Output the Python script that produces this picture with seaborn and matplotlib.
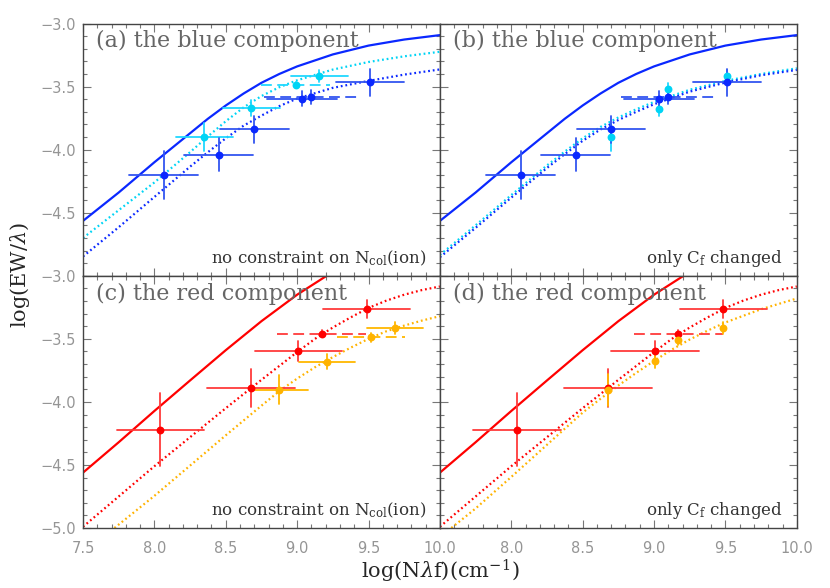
import matplotlib
matplotlib.use("Agg")
import matplotlib.pyplot as plt
import seaborn as sns
from matplotlib.ticker import MultipleLocator

# model curves
blue_grid = [7.5, 7.75, 8.0, 8.25, 8.375, 8.5, 8.625, 8.75, 8.875, 9.0, 9.25, 9.5, 9.75, 10.0]
blue_solid_y = [-4.565, -4.34, -4.10, -3.87, -3.755, -3.65, -3.555, -3.47, -3.40, -3.34, -3.245, -3.175, -3.127, -3.092]
blue_dot_a_y = [-4.847, -4.615, -4.375, -4.135, -4.02, -3.91, -3.81, -3.73, -3.655, -3.595, -3.51, -3.455, -3.405, -3.364]
cyan_dot_a_y = [-4.70, -4.48, -4.26, -4.02, -3.895, -3.775, -3.665, -3.575, -3.505, -3.45, -3.365, -3.305, -3.26, -3.224]
blue_dot_b_y = [-4.853, -4.62, -4.38, -4.145, -4.035, -3.93, -3.84, -3.765, -3.70, -3.64, -3.54, -3.468, -3.41, -3.368]
cyan_dot_b_y = [-4.835, -4.60, -4.36, -4.125, -4.015, -3.91, -3.82, -3.745, -3.68, -3.622, -3.525, -3.455, -3.40, -3.355]

red_solid_x = [7.5, 7.75, 8.0, 8.25, 8.5, 8.75, 9.0, 9.207]
red_solid_y = [-4.561, -4.32, -4.072, -3.83, -3.59, -3.36, -3.15, -3.0]
red_dot_x = [7.5, 7.75, 8.0, 8.25, 8.5, 8.75, 9.0, 9.125, 9.25, 9.375, 9.5, 9.625, 9.75, 9.875, 10.0]
red_dot_y = [-4.99, -4.75, -4.51, -4.28, -4.05, -3.825, -3.605, -3.50, -3.41, -3.33, -3.255, -3.197, -3.15, -3.113, -3.085]
orange_dot_c_x = [7.72, 8.0, 8.25, 8.5, 8.75, 8.875, 9.0, 9.125, 9.25, 9.375, 9.5, 9.625, 9.75, 9.875, 10.0]
orange_dot_c_y = [-5.0, -4.745, -4.505, -4.265, -4.03, -3.915, -3.815, -3.725, -3.645, -3.57, -3.50, -3.44, -3.395, -3.355, -3.32]
orange_dot_d_x = [7.58, 7.75, 8.0, 8.25, 8.5, 8.625, 8.75, 8.875, 9.0, 9.125, 9.25, 9.375, 9.5, 9.75, 10.0]
orange_dot_d_y = [-5.0, -4.845, -4.595, -4.34, -4.085, -3.975, -3.87, -3.77, -3.675, -3.585, -3.505, -3.435, -3.37, -3.265, -3.18]

# measurements
blue_x = [8.065, 8.45, 8.70, 9.035, 9.10, 9.51]
blue_y = [-4.20, -4.04, -3.84, -3.595, -3.58, -3.466]
blue_xerr = [0.24, 0.24, 0.24, 0.245, 0.33, 0.24]
blue_yerr = [0.19, 0.13, 0.11, 0.06, 0.055, 0.105]
blue_dashed = [4]

cyan_a_x = [8.35, 8.68, 8.99, 9.156]
cyan_a_y = [-3.90, -3.67, -3.487, -3.416]
cyan_a_xerr = [0.20, 0.20, 0.24, 0.20]
cyan_a_yerr = [0.11, 0.06, 0.02, 0.045]
cyan_a_dashed = [2]

cyan_b_x = [8.70, 9.035, 9.10, 9.51]
cyan_b_y = [-3.903, -3.674, -3.521, -3.416]
cyan_b_yerr = [0.11, 0.06, 0.05, 0.045]

red_x = [8.04, 8.68, 9.009, 9.171, 9.486]
red_y = [-4.222, -3.892, -3.595, -3.458, -3.262]
red_xerr = [0.305, 0.308, 0.307, 0.31, 0.306]
red_yerr = [0.29, 0.15, 0.08, 0.03, 0.07]
red_dashed = [3]

orange_c_x = [8.876, 9.207, 9.518, 9.686]
orange_c_y = [-3.905, -3.68, -3.489, -3.415]
orange_c_xerr = [0.198, 0.196, 0.24, 0.198]
orange_c_yerr = [0.115, 0.06, 0.035, 0.045]
orange_c_dashed = [2]

orange_d_x = [8.68, 9.009, 9.171, 9.486]
orange_d_y = [-3.905, -3.675, -3.508, -3.415]
orange_d_yerr = [0.13, 0.06, 0.04, 0.045]

titles = ["(a) the blue component", "(b) the blue component",
          "(c) the red component", "(d) the red component"]
notes = [r"no constraint on N$_{\rm col}$(ion)", r"only C$_{\rm f}$ changed"]

BLUE, BLUE_BAR = "#0a28ff", "#3355f0"
CYAN, CYAN_BAR = "#00d4f5", "#20d8ff"
RED, RED_BAR = "#ff0000", "#ff3a3a"
ORANGE, ORANGE_BAR = "#ffb300", "#ffb800"

sns.set_style("ticks")
plt.rcParams["font.family"] = ["DejaVu Serif"]
plt.rcParams["mathtext.fontset"] = "dejavuserif"

fig, axes = plt.subplots(2, 2, figsize=(8.3, 5.88), dpi=100,
                         gridspec_kw=dict(left=0.1, right=0.96, top=0.96,
                                          bottom=0.102, hspace=0, wspace=0))


def curve(ax, x, y, color, dotted):
    ls = (0, (0.8, 1.3)) if dotted else "-"
    sns.lineplot(x=x, y=y, ax=ax, color=color, lw=1.6, linestyle=ls,
                 sort=False, estimator=None, zorder=2)


def points(ax, x, y, xerr, yerr, dashed, color, bar):
    for i in range(len(x)):
        if xerr is not None:
            ls = (0, (6, 3)) if i in dashed else "-"
            ax.plot([x[i] - xerr[i], x[i] + xerr[i]], [y[i], y[i]],
                    color=bar, lw=1.3, ls=ls, zorder=3)
        ax.plot([x[i], x[i]], [y[i] - yerr[i], y[i] + yerr[i]],
                color=bar, lw=1.3, zorder=3)
    sns.scatterplot(x=x, y=y, ax=ax, color=color, s=32, linewidth=0, zorder=5)


ax_a, ax_b = axes[0]
ax_c, ax_d = axes[1]

# (a)
curve(ax_a, blue_grid, blue_dot_a_y, BLUE, True)
curve(ax_a, blue_grid, cyan_dot_a_y, CYAN, True)
curve(ax_a, blue_grid, blue_solid_y, BLUE, False)
points(ax_a, cyan_a_x, cyan_a_y, cyan_a_xerr, cyan_a_yerr, cyan_a_dashed, CYAN, CYAN_BAR)
points(ax_a, blue_x, blue_y, blue_xerr, blue_yerr, blue_dashed, BLUE, BLUE_BAR)

# (b)
curve(ax_b, blue_grid, cyan_dot_b_y, CYAN, True)
curve(ax_b, blue_grid, blue_dot_b_y, BLUE, True)
curve(ax_b, blue_grid, blue_solid_y, BLUE, False)
points(ax_b, cyan_b_x, cyan_b_y, None, cyan_b_yerr, [], CYAN, CYAN_BAR)
points(ax_b, blue_x, blue_y, blue_xerr, blue_yerr, blue_dashed, BLUE, BLUE_BAR)

# (c)
curve(ax_c, red_dot_x, red_dot_y, RED, True)
curve(ax_c, orange_dot_c_x, orange_dot_c_y, ORANGE, True)
curve(ax_c, red_solid_x, red_solid_y, RED, False)
points(ax_c, orange_c_x, orange_c_y, orange_c_xerr, orange_c_yerr, orange_c_dashed, ORANGE, ORANGE_BAR)
points(ax_c, red_x, red_y, red_xerr, red_yerr, red_dashed, RED, RED_BAR)

# (d)
curve(ax_d, red_dot_x, red_dot_y, RED, True)
curve(ax_d, orange_dot_d_x, orange_dot_d_y, ORANGE, True)
curve(ax_d, red_solid_x, red_solid_y, RED, False)
points(ax_d, red_x, red_y, red_xerr, red_yerr, red_dashed, RED, RED_BAR)
points(ax_d, orange_d_x, orange_d_y, None, orange_d_yerr, [], ORANGE, ORANGE_BAR)

for k, ax in enumerate(axes.flat):
    ax.set_xlabel("")
    ax.set_ylabel("")
    ax.xaxis.set_minor_locator(MultipleLocator(0.1))
    ax.yaxis.set_minor_locator(MultipleLocator(0.1))
    ax.tick_params(which="both", direction="in", top=True, right=True,
                   color="#777777", labelcolor="#959595", labelsize=10.5)
    ax.tick_params(which="major", length=6, width=0.8)
    ax.tick_params(which="minor", length=3, width=0.8)
    ax.tick_params(axis="x", pad=9)
    ax.tick_params(axis="y", pad=5)
    for sp in ax.spines.values():
        sp.set_color("#444444")
        sp.set_linewidth(1.0)
    ax.text(0.036, 0.905, titles[k], transform=ax.transAxes, fontsize=16,
            color="#666666", va="baseline", ha="left")
    ax.text(0.962, 0.05, notes[k % 2], transform=ax.transAxes, fontsize=12,
            color="#333333", va="baseline", ha="right")

for ax in (ax_a, ax_b):
    ax.set_yticks([-4.5, -4.0, -3.5, -3.0])
    ax.tick_params(labelbottom=False)
ax_c.set_yticks([-5.0, -4.5, -4.0, -3.5, -3.0])
ax_d.set_yticks([-5.0, -4.5, -4.0, -3.5, -3.0])
ax_c.set_xticks([7.5, 8.0, 8.5, 9.0, 9.5, 10.0])
ax_d.set_xticks([8.0, 8.5, 9.0, 9.5, 10.0])
for ax in (ax_b, ax_d):
    ax.tick_params(labelleft=False)
for ax in axes.flat:
    ax.set_xlim(7.5, 10.0)
    ax.set_ylim(-5.0, -3.0)
    for lab in ax.get_xticklabels() + ax.get_yticklabels():
        lab.set_family("DejaVu Sans")

fig.text(0.53, 0.028, r"log(N$\lambda$f)(cm$^{-1}$)", ha="center", va="center", fontsize=15)
fig.text(0.024, 0.532, r"log(EW/$\lambda$)", ha="center", va="center", rotation=90, fontsize=15)

fig.savefig("out.png", dpi=100)
